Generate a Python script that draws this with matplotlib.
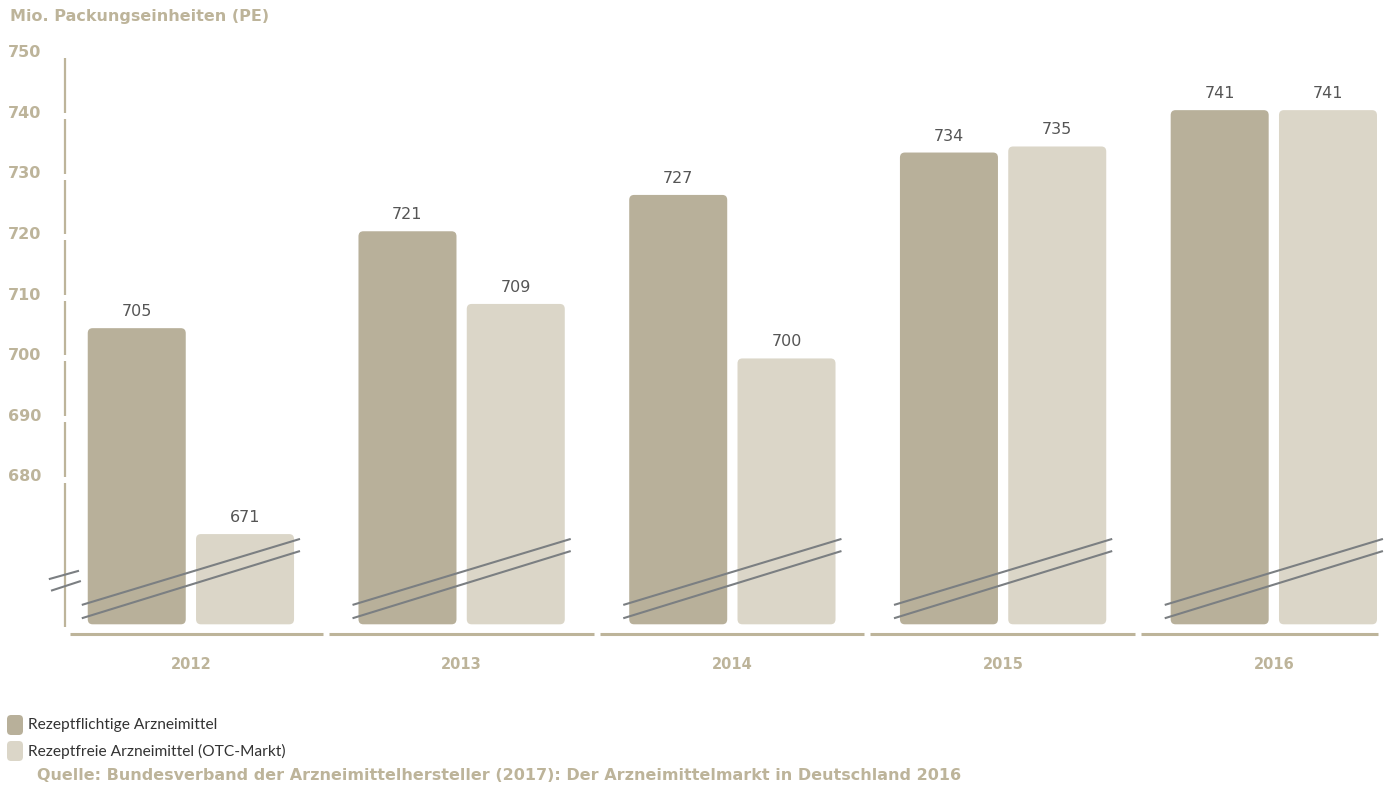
import matplotlib
matplotlib.use("Agg")
import matplotlib.pyplot as plt
from matplotlib.patches import FancyBboxPatch
from matplotlib.transforms import blended_transform_factory

years = ["2012", "2013", "2014", "2015", "2016"]
rx_values = [705, 721, 727, 734, 741]
otc_values = [671, 709, 700, 735, 741]
ytick_values = [680, 690, 700, 710, 720, 730, 740, 750]
series_names = ["Rezeptflichtige Arzneimittel", "Rezeptfreie Arzneimittel (OTC-Markt)"]
y_title = "Mio. Packungseinheiten (PE)"
source = "Quelle: Bundesverband der Arzneimittelhersteller (2017): Der Arzneimittelmarkt in Deutschland 2016"

C_DARK = "#b8b09a"
C_LIGHT = "#dbd6c8"
C_TAN = "#bdb49a"
C_GRAY = "#7b7f82"
C_VAL = "#555555"
FONT = "DejaVu Sans"
FONT2 = "Lato"

W, H = 1387, 787
fig = plt.figure(figsize=(W / 100, H / 100), dpi=100)
ax = fig.add_axes([65 / W, (H - 634) / H, 1 - 65 / W, (634 - 52) / H])
ax.set_xlim(-0.465, 4.418)
ymin, ymax = 654.5, 750.6
ax.set_ylim(ymin, ymax)
ax.axis("off")

base = 656.1
off = 0.2
bw = 0.362
rs = 0.018
asp = 0.83 / rs
for i, (a, b) in enumerate(zip(rx_values, otc_values)):
    for x, v, c in ((i - off, a, C_DARK), (i + off, b, C_LIGHT)):
        p = FancyBboxPatch((x - bw / 2, base), bw, v - base,
                           boxstyle=f"round,pad=0,rounding_size={rs}",
                           mutation_aspect=asp, fc=c, ec="none", zorder=2)
        ax.add_patch(p)
        ax.annotate(str(v), (x, v), xytext=(0, 6.5), textcoords="offset points",
                    ha="center", va="bottom", fontsize=11.5, color=C_VAL,
                    family=FONT)
    # break lines across bars
    for y0, y1 in ((659.3, 670.2), (657.1, 668.2)):
        ax.plot([i - 0.403, i + 0.403], [y0, y1], color=C_GRAY, lw=1.5,
                zorder=3, solid_capstyle="butt")
    # bottom axis segments
    x0 = -0.447 if i == 0 else i - 0.49
    x1 = 4.385 if i == 4 else i + 0.488
    ax.plot([x0, x1], [ymin, ymin], color=C_TAN, lw=2.2, clip_on=False,
            solid_capstyle="butt")
    ax.text(i, ymin - 30 / 6.056, years[i], ha="center", va="center",
            fontsize=10.5, fontweight="bold", color=C_TAN, family=FONT)

# left axis with small gaps at ticks
xl = -0.465
top = 749.6
for t in reversed(ytick_values[:-1]):
    ax.plot([xl, xl], [top, t + 0.5], color=C_TAN, lw=1.6, clip_on=False,
            solid_capstyle="butt")
    top = t - 0.5
ax.plot([xl, xl], [top, 655.6], color=C_TAN, lw=1.6, clip_on=False,
        solid_capstyle="butt")

# axis break marks
for (xa, ya), (xb, yb) in (((-0.521, 663.6), (-0.417, 664.9)),
                           ((-0.513, 661.7), (-0.410, 663.2))):
    ax.plot([xa, xb], [ya, yb], color=C_GRAY, lw=1.5, clip_on=False, zorder=4)

# y tick labels
tr = blended_transform_factory(fig.transFigure, ax.transData)
for t in ytick_values:
    ax.annotate(str(t), (8 / W, t), xycoords=tr, xytext=(0, 2),
                textcoords="offset points", ha="left", va="center",
                fontsize=11.5, fontweight="bold", color=C_TAN, family=FONT)

fig.text(10 / W, 1 - 17 / H, y_title, ha="left", va="center", fontsize=11.5,
         fontweight="bold", color=C_TAN, family=FONT)

# legend
for k, (name, c) in enumerate(zip(series_names, (C_DARK, C_LIGHT))):
    yc = 725 + 26 * k
    sq = FancyBboxPatch((7 / W, 1 - (yc + 10) / H), 16 / W, 20 / H,
                        boxstyle="round,pad=0,rounding_size=0.003",
                        mutation_aspect=W / H, transform=fig.transFigure,
                        fc=c, ec="none")
    fig.patches.append(sq)
    fig.text(28 / W, 1 - yc / H, name, ha="left", va="center", fontsize=11.2,
             color="#333333", family=FONT2)
fig.text(37 / W, 1 - 776 / H, source, ha="left", va="center", fontsize=11.5,
         fontweight="bold", color=C_TAN, family=FONT)

fig.savefig("out.png", dpi=100)
